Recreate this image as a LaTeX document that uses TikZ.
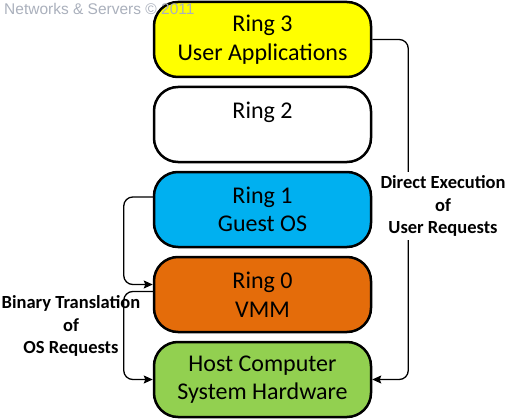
\documentclass[tikz,border=0pt]{standalone}
\usepackage{fontspec}
\setmainfont{Carlito}
\newfontfamily\creditfont{Liberation Sans}
\usetikzlibrary{arrows.meta}
\usetikzlibrary{positioning}
\definecolor{ringyellow}{HTML}{FFFF00}
\definecolor{ringblue}{HTML}{00B0F0}
\definecolor{ringorange}{HTML}{E46C0A}
\definecolor{ringgreen}{HTML}{92D050}
\definecolor{creditgray}{RGB}{170,176,188}
\tikzset{
  ring/.style={draw, line width=2.5pt, rounded corners=24pt,
    minimum width=217pt, minimum height=75pt, inner sep=0,
    align=center, font=\fontsize{24}{28.5}\selectfont},
  arrow/.style={-{Stealth[length=9pt,width=8pt,inset=1.5pt]}, line width=1.3pt, rounded corners=9pt},
  note/.style={align=center, font=\bfseries\fontsize{18.5}{22.5}\selectfont}
}
\begin{document}
\begin{tikzpicture}[x=1pt,y=-1pt,node distance=7.5pt]
\useasboundingbox (0,0) rectangle (509,420);
% the ring stack
\node[ring, fill=ringyellow] (ring3) at (262.5,39.5) {Ring 3\\User Applications};
\node[ring, fill=white, below=of ring3] (ring2) {Ring 2\\\mbox{}};
\node[ring, fill=ringblue, below=of ring2] (ring1) {Ring 1\\Guest OS};
\node[ring, fill=ringorange, below=of ring1] (ring0) {Ring 0\\VMM};
\node[ring, fill=ringgreen, below=of ring0] (host) {Host Computer\\System Hardware};
% binary translation of OS requests
\draw[arrow] ([yshift=12.5pt]ring1.west) -- ++(-29,0) |- ([yshift=10pt]ring0.west);
\draw[arrow] ([yshift=3pt]ring0.west) -- ++(-29,0) |- (host.west);
\node[note] (binary) at (71,326) {Binary Translation\\of\\OS Requests};
% direct execution of user requests
\draw[arrow] (ring3.east) -- ++(36,0) |- (host.east);
\node[note, fill=white] (direct) at (443,206) {Direct Execution\\of\\User Requests};
\node[anchor=west, inner sep=0, text=creditgray,
  font=\creditfont\fontsize{15.5}{15.5}\selectfont] (credit) at (4,9) {Networks \& Servers © 2011};
\end{tikzpicture}
\end{document}
